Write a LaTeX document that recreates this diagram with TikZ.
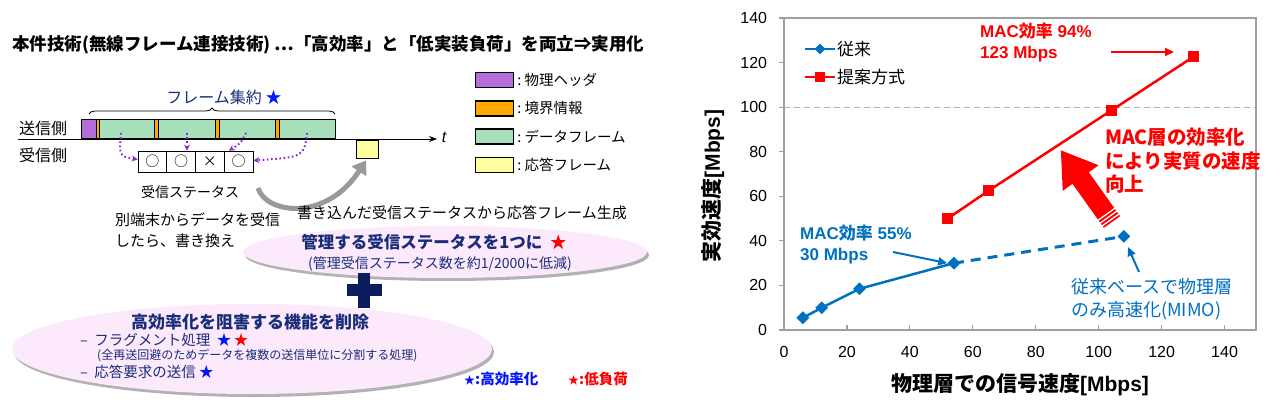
\documentclass[tikz,border=0pt]{standalone}
\usepackage{fontspec}
\setmainfont{Liberation Sans}
\newfontfamily\jp{Noto Sans CJK JP}
\usetikzlibrary{positioning,calc,arrows.meta,shapes.geometric,decorations.pathreplacing,shadows}
\newcommand{\fsz}[2]{\fontsize{#1}{#2}\selectfont}
\definecolor{hdrPurple}{RGB}{180,110,220}
\definecolor{bndOrange}{RGB}{255,168,0}
\definecolor{dataGreen}{RGB}{168,224,188}
\definecolor{ackYellow}{RGB}{255,255,160}
\definecolor{navyText}{RGB}{25,45,120}
\definecolor{navyPlus}{RGB}{10,30,95}
\definecolor{dotPurple}{RGB}{135,40,215}
\definecolor{ellPink}{RGB}{252,233,252}
\definecolor{oldBlue}{RGB}{0,112,192}
\definecolor{newRed}{RGB}{255,0,0}
\definecolor{starBlue}{RGB}{0,20,255}
\colorlet{axisGray}{gray!75}

\begin{document}
\begin{tikzpicture}[x=1pt, y=-1pt,
    every node/.style={inner sep=0pt, font=\jp\fsz{14.5}{18}},
    seg/.style={draw, line width=0.8pt, minimum height=19pt, anchor=south west},
    cell/.style={draw, line width=0.6pt, minimum width=28.75pt, minimum height=21pt, font=\jp\fsz{14}{16}},
    keybox/.style={draw, line width=1.2pt, minimum width=38pt, minimum height=15pt},
    dotarrow/.style={dotPurple, line width=2pt, dash pattern=on 1.6pt off 2.6pt, -{Stealth[length=6pt, width=6pt]}},
    bubble/.style={ellipse, fill=ellPink, drop shadow={shadow xshift=2pt, shadow yshift=-3pt, opacity=0.3, fill=black}},
    navy/.style={text=navyText},
    tick/.style={font=\fsz{16}{18}},
    axlbl/.style={font=\bfseries\fsz{21}{24}},
    dmark/.style={diamond, fill=oldBlue, minimum size=13pt},
    smark/.style={rectangle, fill=newRed, minimum size=11pt},
  ]
\fill[white] (0,0) rectangle (1280,412);
\useasboundingbox (0,0) rectangle (1280,412);

% title
\node[anchor=west, font=\jp\bfseries\fsz{17.5}{20}] (title) at (12,45)
  {本件技術(無線フレーム連接技術) …「高効率」と「低実装負荷」を両立⇒実用化};

% frame timeline
\node[anchor=west] (txlbl) at (19,128) {\fsz{16}{18}送信側};
\node[anchor=west] (rxside) at (19,155) {\fsz{16}{18}受信側};
\coordinate (t0) at (18,139);
\coordinate (t1) at (437,139);
\draw[line width=0.9pt, -{Stealth[length=8pt, width=6pt]}] (t0) -- (t1);
\node[font=\itshape\fsz{16}{18}] (tlbl) at (444,137) {t};

\foreach \x/\w/\c [count=\i] in {81/15/hdrPurple, 96/3/bndOrange, 99/55/dataGreen,
    154/4/bndOrange, 158/57/dataGreen, 215/4/bndOrange, 219/56/dataGreen,
    275/4/bndOrange, 279/56/dataGreen}{
  \node[seg, fill=\c, minimum width=\w pt] (seg\i) at (\x,139) {};
}
\coordinate (brL) at (89,114);
\coordinate (brR) at (335,114);
\draw[decorate, decoration={brace, amplitude=6pt}, line width=0.8pt] (brL) -- (brR);
\node[navy, font=\jp\fsz{16}{18}] (aggr) at (224,97) {フレーム集約\ {\color{starBlue}★}};

% receive status
\foreach \s [count=\i] in {○,○,×,○}{
  \node[cell] (st\i) at ({152.4+28.75*(\i-1)},161.5) {\s};
}
\node[font=\jp\fsz{14}{17}] (stlbl) at (190,192) {受信ステータス};

\coordinate (d1) at (121,133);
\coordinate (d2) at (187,133);
\coordinate (d3) at (246,133);
\coordinate (d4) at (307,133);
\draw[dotarrow] (d1) .. controls (119,156) .. ([yshift=2pt]st1.west);
\draw[dotarrow] (d2) -- (d2 |- st2.north);
\draw[dotarrow] (d3) .. controls (241,143) .. ([xshift=5pt]st4.north west);
\draw[dotarrow] (d4) .. controls (304,157) .. ([yshift=1pt]st4.east);

% response frame
\node[draw, line width=0.8pt, fill=ackYellow, minimum width=22pt, minimum height=18pt] (ack) at (367,149) {};
\coordinate (g0) at (258,188);
\draw[gray!80, line width=5pt, -{Triangle[length=13pt, width=17pt]}]
  (g0) .. controls (266,214) and (326,222) .. ([xshift=-1pt, yshift=-2pt]ack.south);

\node[anchor=west, font=\jp\fsz{15}{18}] (genlbl) at (297,213) {書き込んだ受信ステータスから応答フレーム生成};
\node[anchor=west, align=left, font=\jp\fsz{15}{21}] (rwlbl) at (115,230) {別端末からデータを受信\\したら、書き換え};

% legend
\foreach \y/\c/\t [count=\i] in {80/hdrPurple/物理ヘッダ, 108.5/bndOrange/境界情報,
    136.5/dataGreen/データフレーム, 165/ackYellow/応答フレーム}{
  \node[keybox, fill=\c] (key\i) at (494.5,\y) {};
  \node[right=3pt of key\i, font=\jp\fsz{14.5}{17}] (keyt\i) {:\ \t};
}

% bubble 1
\node[bubble, minimum width=404pt, minimum height=52pt] (ell1) at (445,252) {};
\node[navy, font=\jp\bfseries\fsz{16.5}{19}] (e1a) at (434,242) {管理する受信ステータスを1つに\ \ {\color{newRed}★}};
\node[navy, font=\jp\fsz{14}{16}] (e1b) at (440,264) {(管理受信ステータス数を約1/2000に低減)};

% plus
\node[fill=navyPlus, minimum width=35pt, minimum height=12pt] (plusH) at (364,290) {};
\node[fill=navyPlus, minimum width=12pt, minimum height=35pt] (plusV) at (364,290) {};

% bubble 2
\node[bubble, minimum width=480pt, minimum height=90pt] (ell2) at (252,349) {};
\node[navy, font=\jp\bfseries\fsz{17}{20}] (e2a) at (250,322) {高効率化を阻害する機能を削除};
\node[navy, anchor=west] (e2b) at (80,340) {–\ \ フラグメント処理\ \ {\color{starBlue}★}\,{\color{newRed}★}};
\node[navy, anchor=west, font=\jp\fsz{12}{14}] (e2c) at (97,356) {(全再送回避のためデータを複数の送信単位に分割する処理)};
\node[navy, anchor=west] (e2d) at (80,372) {–\ \ 応答要求の送信\ {\color{starBlue}★}};

\node[anchor=west, text=starBlue, font=\jp\bfseries\fsz{14.5}{17}] (keyB) at (464,379) {{\fsz{11}{13}★}:高効率化};
\node[anchor=west, text=newRed, font=\jp\bfseries\fsz{14.5}{17}] (keyR) at (568,379) {{\fsz{11}{13}★}:低負荷};

% chart
\begin{scope}[shift={(784,330)}, x=3.147pt, y=2.2286pt]
  \draw[gray!60, line width=1pt, dash pattern=on 6pt off 4pt] (0,100) -- (150,100);
  \draw[axisGray, line width=1.6pt] (0,0) rectangle (150,140);
  \foreach \v in {0,20,...,140}{
    \draw[axisGray, line width=1.2pt] (0,\v) -- (-1.6,\v);
    \node[tick, anchor=east] (yt\v) at (-5.3,\v) {\v};
  }
  \foreach \v in {20,40,...,140}{
    \draw[axisGray, line width=1.2pt] (\v,0) -- (\v,2.2);
  }
  \foreach \v in {0,20,...,140}{
    \node[tick] (xt\v) at (\v,-10) {\v};
  }

  \coordinate (b1) at (6,5.5);
  \coordinate (b2) at (12,10);
  \coordinate (b3) at (24,18.5);
  \coordinate (b4) at (54,30);
  \coordinate (b5) at (108,42);
  \coordinate (r1) at (52,50);
  \coordinate (r2) at (65,62.5);
  \coordinate (r3) at (104,98.5);
  \coordinate (r4) at (130,122.5);

  \draw[oldBlue, line width=2.5pt] (b1) -- (b2) -- (b3) -- (b4);
  \draw[oldBlue, line width=3pt, dash pattern=on 10pt off 7pt] (b4) -- (b5);
  \draw[newRed, line width=2.5pt] (r1) -- (r2) -- (r3) -- (r4);
  \foreach \p in {b1,b2,b3,b4,b5}{ \node[dmark] (m\p) at (\p) {}; }
  \foreach \p in {r1,r2,r3,r4}{ \node[smark] (m\p) at (\p) {}; }
\end{scope}

\node[axlbl, rotate=90] (ylab) at (713,186) {{\jp 実効速度}[Mbps]};
\node[axlbl] (xlab) at (1020,385) {{\jp 物理層での信号速度}[Mbps]};

% chart legend
\coordinate (lg1a) at (805,49);
\coordinate (lg1b) at (835,49);
\coordinate (lg2a) at (805,77);
\coordinate (lg2b) at (835,77);
\draw[oldBlue, line width=2.5pt] (lg1a) -- (lg1b);
\draw[newRed, line width=2.5pt] (lg2a) -- (lg2b);
\node[dmark, minimum size=11pt] (lgm1) at ($(lg1a)!0.5!(lg1b)$) {};
\node[smark, minimum size=10pt] (lgm2) at ($(lg2a)!0.5!(lg2b)$) {};
\node[anchor=west, font=\jp\fsz{17}{20}] (lgt1) at (837,49) {従来};
\node[anchor=west, font=\jp\fsz{17}{20}] (lgt2) at (837,77) {提案方式};

% annotations
\node[anchor=west, align=left, text=newRed, font=\bfseries\fsz{17}{21}] (ann94) at (980,42.5) {MAC{\jp 効率} 94\%\\123 Mbps};
\coordinate (ra0) at (1111,52);
\coordinate (ra1) at (1174,52);
\draw[newRed, line width=2pt, -{Triangle[length=9pt, width=8pt]}] (ra0) -- (ra1);

\node[anchor=west, align=left, text=newRed, font=\jp\bfseries\fsz{19.5}{23.5}] (annMAC) at (1105,161) {MAC層の効率化\\により実質の速度\\向上};
\begin{scope}[shift={(1112,222)}, rotate=125.5]
  \fill[newRed] (0,-10) -- (54,-10) -- (54,-22) -- (88,0) -- (54,22) -- (54,10) -- (0,10) -- cycle;
  \foreach \s in {2.5,6,9.5}{ \draw[white, line width=1.3pt] (\s,-11) -- (\s,11); }
\end{scope}

\node[anchor=west, align=left, text=oldBlue, font=\bfseries\fsz{17}{21}] (ann55) at (800,244.5) {MAC{\jp 効率} 55\%\\30 Mbps};
\coordinate (ba0) at (893,252);
\draw[oldBlue, line width=2pt, -{Triangle[length=9pt, width=8pt]}] (ba0) -- (mb4.west);

\node[anchor=west, align=left, text=oldBlue, font=\jp\fsz{18}{23}] (annMIMO) at (1071,299) {従来ベースで物理層\\のみ高速化(MIMO)};
\coordinate (bb0) at (1139,272);
\coordinate (bb1) at (1128,247);
\draw[oldBlue, line width=2pt, -{Triangle[length=9pt, width=8pt]}] (bb0) -- (bb1);

\end{tikzpicture}
\end{document}
